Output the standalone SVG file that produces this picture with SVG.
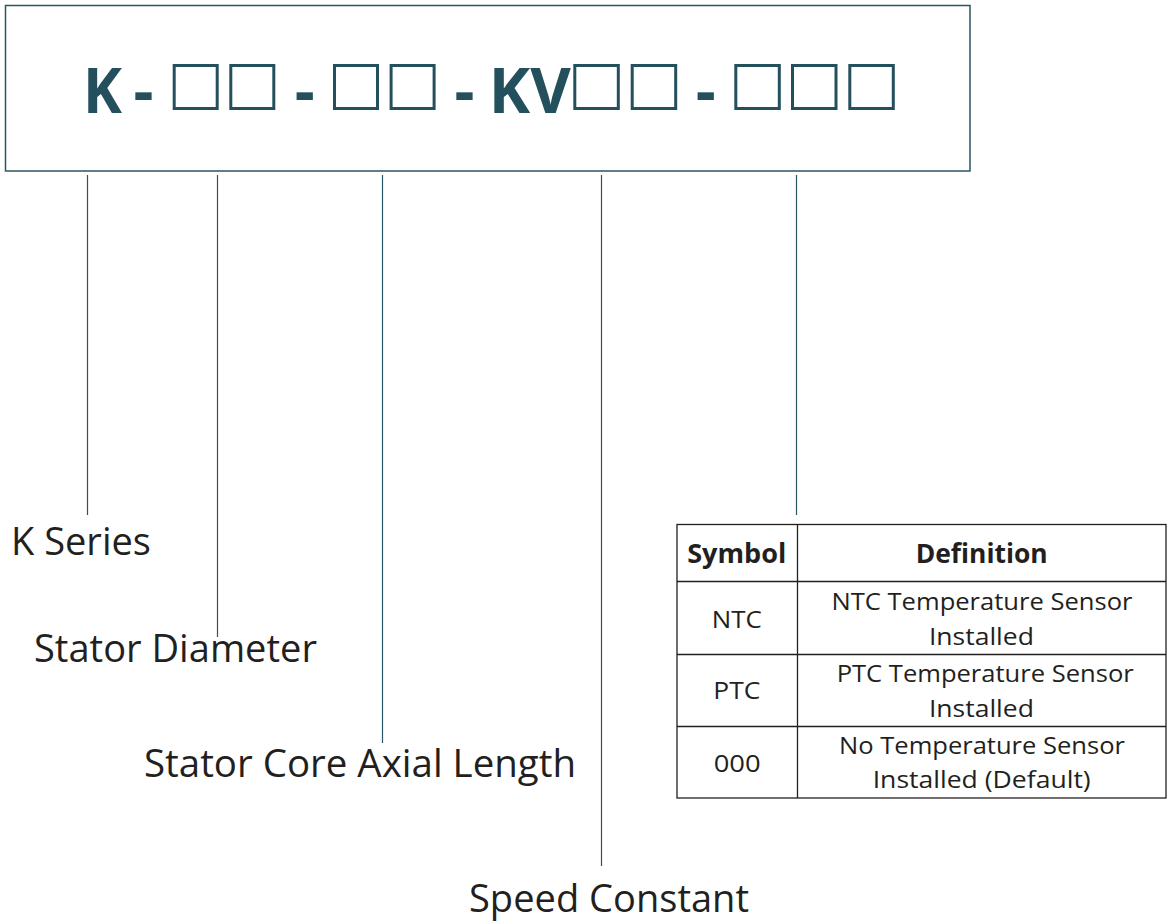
<svg xmlns="http://www.w3.org/2000/svg" width="1168" height="924" viewBox="0 0 1168 924">
<style>
.title{font-family:"Open Sans","Liberation Sans",sans-serif;font-weight:700;font-size:62px;fill:#24505d}
.sq{fill:none;stroke:#24505d;stroke-width:3}
.lbl{font-family:"Open Sans","Liberation Sans",sans-serif;font-size:39px;fill:#231f20}
.conn line{stroke:#2a5563;stroke-width:1.2}
.th{font-family:"Open Sans","Liberation Sans",sans-serif;font-weight:700;font-size:26px;fill:#231f20;text-anchor:middle}
.td{font-family:"Open Sans","Liberation Sans",sans-serif;font-size:24px;fill:#231f20;text-anchor:middle}
.grid{stroke:#231f20;stroke-width:1.3;fill:none}
</style>
<rect width="1168" height="924" fill="#ffffff"/>
<g id="code-box">
<rect x="5.5" y="5.5" width="964.5" height="165.5" fill="none" stroke="#2a5563" stroke-width="1.5"/>
<text class="title" x="102.5" y="113" text-anchor="middle" textLength="39" lengthAdjust="spacingAndGlyphs">K</text>
<text class="title" x="143.5" y="113" text-anchor="middle">-</text>
<rect class="sq" x="174.2" y="65.5" width="43" height="43"/>
<rect class="sq" x="230.8" y="65.5" width="43" height="43"/>
<text class="title" x="304.7" y="113" text-anchor="middle">-</text>
<rect class="sq" x="334.5" y="65.5" width="43" height="43"/>
<rect class="sq" x="391.1" y="65.5" width="43" height="43"/>
<text class="title" x="464.5" y="113" text-anchor="middle">-</text>
<text class="title" x="529.7" y="113" text-anchor="middle" textLength="82" lengthAdjust="spacingAndGlyphs">KV</text>
<rect class="sq" x="574.8" y="65.5" width="43.5" height="43"/>
<rect class="sq" x="632.2" y="65.5" width="43.5" height="43"/>
<text class="title" x="705.7" y="113" text-anchor="middle">-</text>
<rect class="sq" x="735.8" y="65.5" width="43.5" height="43"/>
<rect class="sq" x="792.5" y="65.5" width="43.5" height="43"/>
<rect class="sq" x="849.8" y="65.5" width="43.5" height="43"/>
</g>
<g id="connectors" class="conn">
<line x1="87.5" y1="175" x2="87.5" y2="515"/>
<line x1="217.5" y1="175" x2="217.5" y2="637"/>
<line x1="382.5" y1="175" x2="382.5" y2="743"/>
<line x1="601.5" y1="175" x2="601.5" y2="866"/>
<line x1="796.5" y1="175" x2="796.5" y2="515"/>
</g>
<g id="label-k-series"><text class="lbl" x="11" y="555" textLength="140" lengthAdjust="spacingAndGlyphs">K Series</text></g>
<g id="label-stator-diameter"><text class="lbl" x="34" y="662" textLength="283" lengthAdjust="spacingAndGlyphs">Stator Diameter</text></g>
<g id="label-axial-length"><text class="lbl" x="144" y="777" textLength="432" lengthAdjust="spacingAndGlyphs">Stator Core Axial Length</text></g>
<g id="label-speed-constant"><text class="lbl" x="469" y="912" textLength="280" lengthAdjust="spacingAndGlyphs">Speed Constant</text></g>
<g id="table">
<rect class="grid" x="677" y="524.5" width="489" height="273.5"/>
<line class="grid" x1="797.5" y1="524.5" x2="797.5" y2="798"/>
<line class="grid" x1="677" y1="581.5" x2="1166" y2="581.5"/>
<line class="grid" x1="677" y1="654.5" x2="1166" y2="654.5"/>
<line class="grid" x1="677" y1="726.5" x2="1166" y2="726.5"/>
<text class="th" x="736.7" y="562.7" textLength="99" lengthAdjust="spacingAndGlyphs">Symbol</text>
<text class="th" x="981.7" y="562.7" textLength="132" lengthAdjust="spacingAndGlyphs">Definition</text>
<text class="td" x="736.7" y="628.3" textLength="50" lengthAdjust="spacingAndGlyphs">NTC</text>
<text class="td" x="982" y="610" textLength="301" lengthAdjust="spacingAndGlyphs">NTC Temperature Sensor</text>
<text class="td" x="981.4" y="645" textLength="105" lengthAdjust="spacingAndGlyphs">Installed</text>
<text class="td" x="736.8" y="699" textLength="47" lengthAdjust="spacingAndGlyphs">PTC</text>
<text class="td" x="985.2" y="681.7" textLength="297" lengthAdjust="spacingAndGlyphs">PTC Temperature Sensor</text>
<text class="td" x="981.4" y="717.3" textLength="105" lengthAdjust="spacingAndGlyphs">Installed</text>
<text class="td" x="737.2" y="772.3" textLength="47" lengthAdjust="spacingAndGlyphs">000</text>
<text class="td" x="982" y="754" textLength="286" lengthAdjust="spacingAndGlyphs">No Temperature Sensor</text>
<text class="td" x="981.7" y="788" textLength="218" lengthAdjust="spacingAndGlyphs">Installed (Default)</text>
</g>
</svg>
